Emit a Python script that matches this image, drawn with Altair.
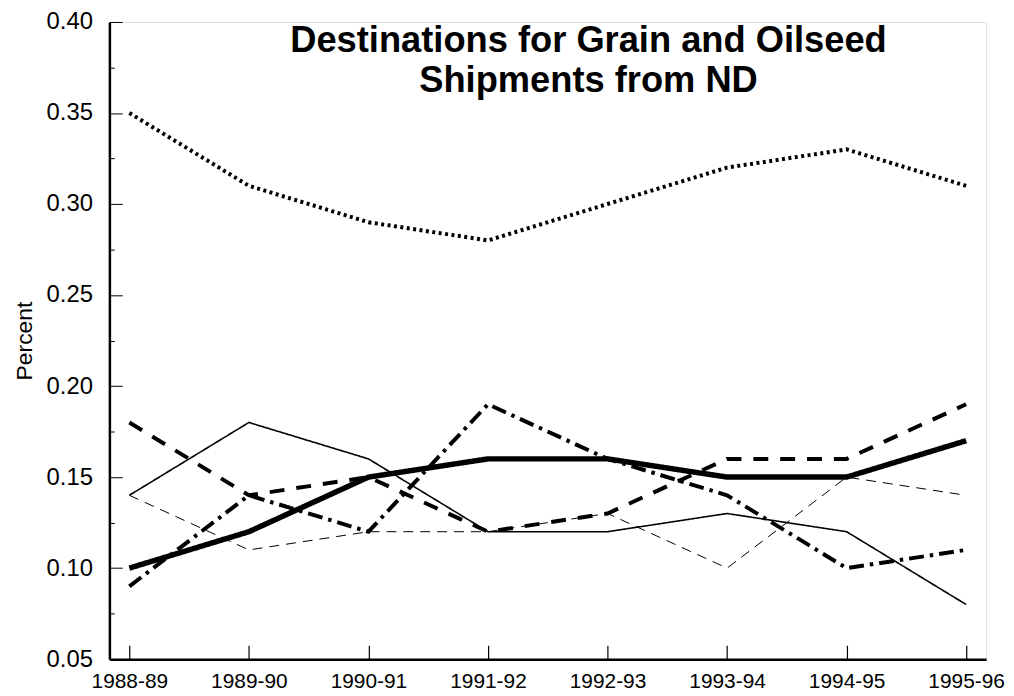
import altair as alt
import pandas as pd

years = ["1988-89", "1989-90", "1990-91", "1991-92", "1992-93", "1993-94", "1994-95", "1995-96"]
series_names = ["Series 1", "Series 2", "Series 3", "Series 4", "Series 5", "Series 6"]
s1 = [0.35, 0.31, 0.29, 0.28, 0.30, 0.32, 0.33, 0.31]
s2 = [0.10, 0.12, 0.15, 0.16, 0.16, 0.15, 0.15, 0.17]
s3 = [0.18, 0.14, 0.15, 0.12, 0.13, 0.16, 0.16, 0.19]
s4 = [0.09, 0.14, 0.12, 0.19, 0.16, 0.14, 0.10, 0.11]
s5 = [0.14, 0.18, 0.16, 0.12, 0.12, 0.13, 0.12, 0.08]
s6 = [0.14, 0.11, 0.12, 0.12, 0.13, 0.10, 0.15, 0.14]
y_ticks = [0.05, 0.10, 0.15, 0.20, 0.25, 0.30, 0.35, 0.40]
y_all_ticks = [0.05, 0.075, 0.10, 0.125, 0.15, 0.175, 0.20, 0.225, 0.25, 0.275, 0.30, 0.325, 0.35, 0.375, 0.40]

rows = []
for name, vals in zip(series_names, [s1, s2, s3, s4, s5, s6]):
    for yr, v in zip(years, vals):
        rows.append({"series": name, "year": yr, "value": v})
df = pd.DataFrame(rows)

# line styles (dash pattern, width), one per series
styles = {
    "Series 1": ([3, 3.5], 4),
    "Series 2": ([1, 0], 5.5),
    "Series 3": ([15, 12], 4),
    "Series 4": ([15, 6, 3.5, 6], 4),
    "Series 5": ([1, 0], 1.6),
    "Series 6": ([10, 7], 1),
}

W, H = 882, 641

x_scale = alt.Scale(type="point", padding=0.167)
y_scale = alt.Scale(domain=[0.05, 0.40], nice=False, zero=False)

x_label_axis = alt.Axis(orient="bottom", title=None, ticks=False, labelAngle=0,
                        labelFont="Liberation Sans", labelFontSize=21,
                        labelColor="black", labelPadding=12,
                        domainColor="black", domainWidth=2.5)
y_label_axis = alt.Axis(orient="left", title="Percent", values=y_ticks, format=".2f",
                        ticks=False, labelFont="Liberation Sans", labelFontSize=24,
                        labelColor="black", labelPadding=17, grid=False,
                        titleFont="Liberation Sans", titleFontSize=23,
                        titleFontWeight="normal", titleColor="black", titlePadding=10,
                        domainColor="black", domainWidth=2.5)
x_tick_axis = alt.Axis(orient="top", offset=-H, title=None, labels=False, domain=False,
                       tickColor="black", tickSize=14, tickWidth=1.2)
y_tick_axis = alt.Axis(orient="right", offset=-W, title=None, labels=False, domain=False,
                       values=y_all_ticks, grid=False, tickColor="black", tickWidth=1,
                       tickSize=alt.condition("round(datum.value*1000) % 50 == 0",
                                              alt.value(13), alt.value(5)))

layers = []
for i, name in enumerate(series_names):
    dash, sw = styles[name]
    if i == 0:
        xa, ya = x_label_axis, y_label_axis
    elif i == 1:
        xa, ya = x_tick_axis, y_tick_axis
    else:
        xa, ya = None, None
    layers.append(
        alt.Chart(df).transform_filter(alt.datum.series == name)
        .mark_line(color="black", strokeDash=dash, strokeWidth=sw)
        .encode(
            x=alt.X("year:N", sort=years, scale=x_scale, axis=xa),
            y=alt.Y("value:Q", scale=y_scale, axis=ya),
        )
    )

chart = alt.layer(*layers).resolve_axis(
    x="independent", y="independent"
).resolve_scale(x="shared", y="shared").properties(
    width=W, height=H,
    autosize=alt.AutoSizeParams(type="none"),
    padding={"left": 102, "top": 12, "right": 20, "bottom": 31},
    title=alt.TitleParams(
        text=["Destinations for Grain and Oilseed", "Shipments from ND"],
        font="Liberation Sans", fontSize=36.5, fontWeight="bold", color="black",
        anchor="middle", dx=41, dy=90, baseline="top", lineHeight=40, offset=0,
    ),
).configure_view(stroke=None).configure(background="white")

chart.save("out.html", embed_options={"renderer": "svg", "actions": False})
